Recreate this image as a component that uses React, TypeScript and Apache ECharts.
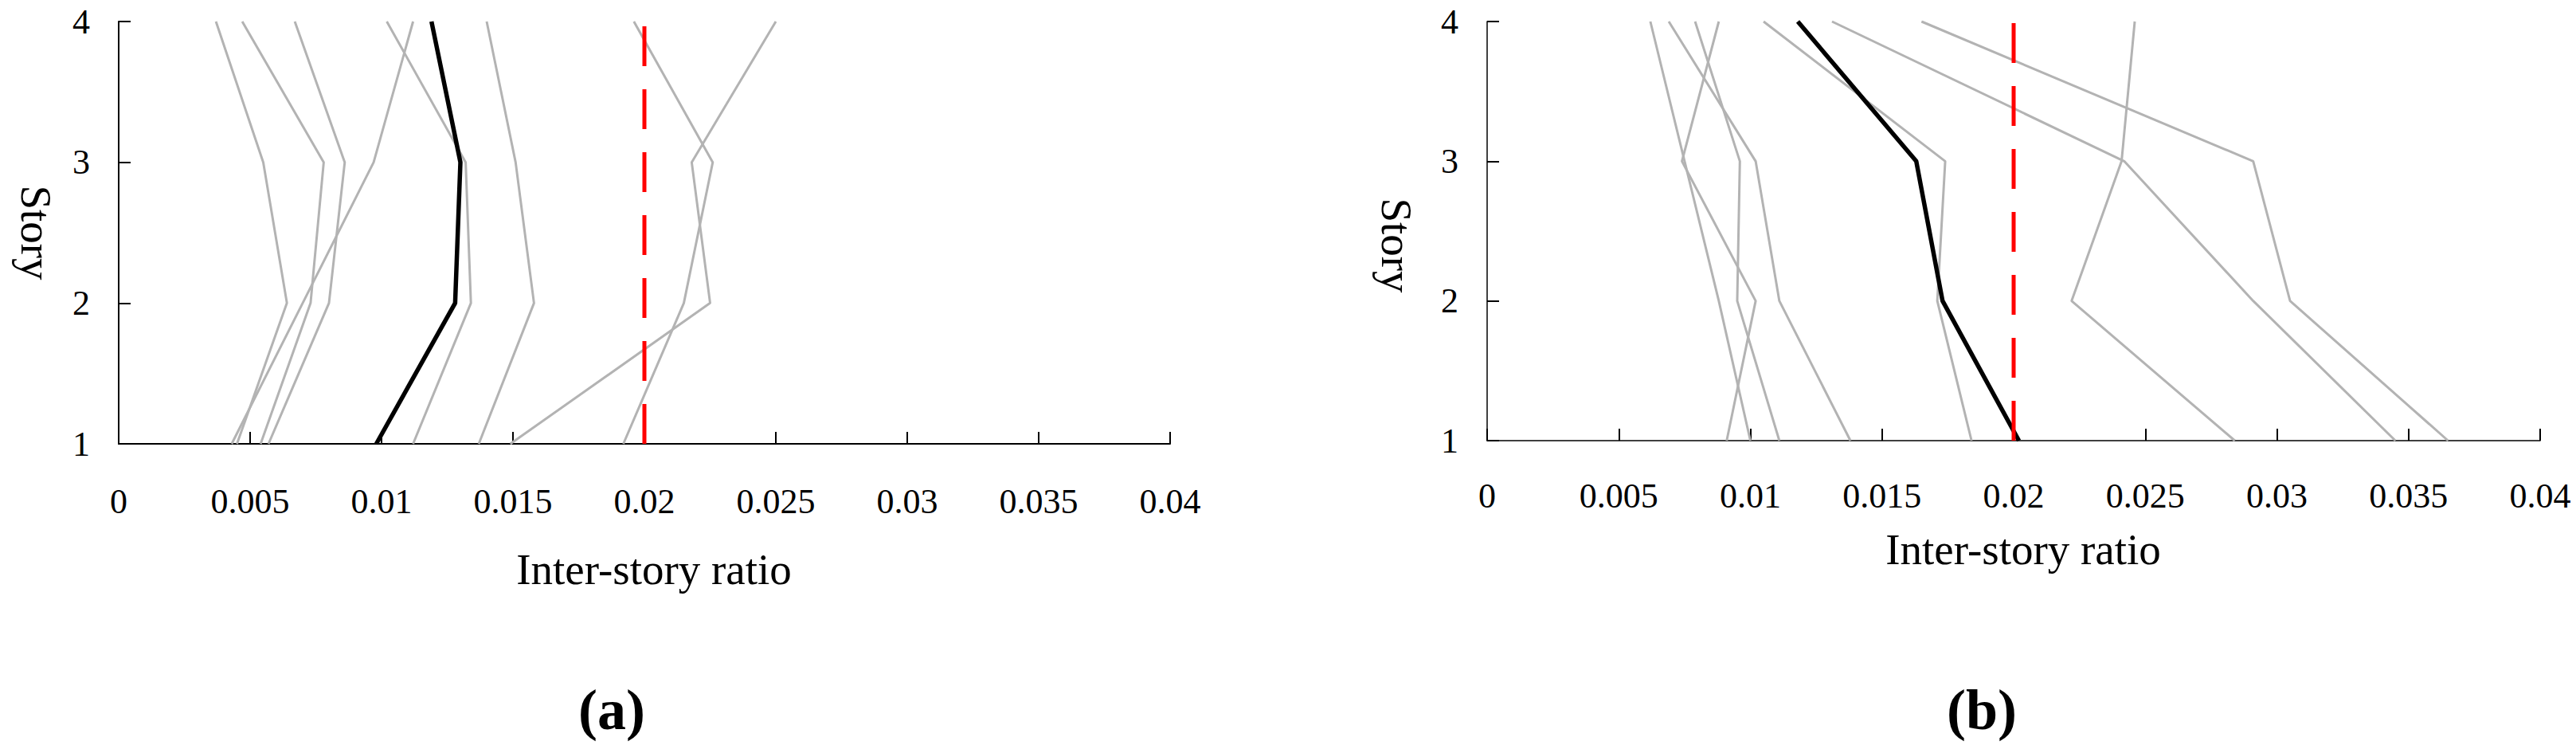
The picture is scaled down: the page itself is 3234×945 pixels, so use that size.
import React, { useEffect, useRef } from "react";
import * as echarts from "echarts";

// Story levels (y axis)
const STORIES = [1, 2, 3, 4];
const STORY_LABELS = ["1", "2", "3", "4"];
const X_TICKS = [0, 0.005, 0.01, 0.015, 0.02, 0.025, 0.03, 0.035, 0.04];

// Panel (a): inter-story drift ratio per record, listed for stories 1..4
const recA1 = [0.0045, 0.0064, 0.0055, 0.0037];
const recA2 = [0.0054, 0.0073, 0.0078, 0.0047];
const recA3 = [0.0057, 0.008, 0.0086, 0.0067];
const recA4 = [0.0043, 0.007, 0.0097, 0.0112];
const recA5 = [0.0112, 0.0134, 0.0132, 0.0102];
const recA6 = [0.0137, 0.0158, 0.0151, 0.014];
const recA7 = [0.0192, 0.0215, 0.0226, 0.0196];
const recA8 = [0.0149, 0.0225, 0.0218, 0.025];
const meanA = [0.0098, 0.0128, 0.013, 0.0119];

// Panel (b)
const recB1 = [0.01, 0.0088, 0.0075, 0.0062];
const recB2 = [0.0091, 0.0102, 0.0074, 0.0088];
const recB3 = [0.0138, 0.0111, 0.0102, 0.0069];
const recB4 = [0.0111, 0.0095, 0.0096, 0.0079];
const recB5 = [0.0184, 0.0171, 0.0174, 0.0105];
const recB6 = [0.0284, 0.0222, 0.0241, 0.0246];
const recB7 = [0.0345, 0.0291, 0.0242, 0.0131];
const recB8 = [0.0365, 0.0305, 0.0291, 0.0165];
const meanB = [0.0202, 0.0173, 0.0163, 0.0118];

// Drift limit (red dashed line), drawn from story 1 to story 4
const LIMIT = 0.02;
const LIMIT_STORIES = [1, 4];

const recordsA = [recA1, recA2, recA3, recA4, recA5, recA6, recA7, recA8];
const recordsB = [recB1, recB2, recB3, recB4, recB5, recB6, recB7, recB8];

const SERIF = "'Liberation Serif', 'Times New Roman', serif";

function toData(vals: number[]) {
  return STORIES.map((s, i) => [vals[i], s]);
}

function panelSeries(records: number[][], mean: number[], idx: number) {
  const out: any[] = [];
  records.forEach((r) => {
    out.push({
      type: "line",
      xAxisIndex: idx,
      yAxisIndex: idx,
      data: toData(r),
      showSymbol: false,
      symbol: "none",
      silent: true,
      lineStyle: { color: "#b3b3b3", width: 3 },
      z: 2,
    });
  });
  out.push({
    type: "line",
    xAxisIndex: idx,
    yAxisIndex: idx,
    data: toData(mean),
    showSymbol: false,
    symbol: "none",
    silent: true,
    lineStyle: { color: "#000000", width: 5.5 },
    z: 3,
  });
  out.push({
    type: "line",
    xAxisIndex: idx,
    yAxisIndex: idx,
    data: LIMIT_STORIES.map((s) => [LIMIT, s]),
    showSymbol: false,
    symbol: "none",
    silent: true,
    lineStyle: { color: "#ff0000", width: 5, type: [50, 29] },
    z: 4,
  });
  return out;
}

function xAxisCfg(idx: number, nameGap: number, lineW: number, labelMargin: number) {
  return {
    type: "value",
    gridIndex: idx,
    min: 0,
    max: 0.04,
    interval: 0.005,
    name: "Inter-story ratio",
    nameLocation: "middle",
    nameGap,
    nameTextStyle: {
      fontSize: 55,
      fontFamily: SERIF,
      color: "#000",
      padding: [0, 0, 0, 24],
    },
    axisLine: { show: true, onZero: false, lineStyle: { color: "#000", width: lineW } },
    axisTick: { show: true, inside: true, length: 15, lineStyle: { color: "#000", width: 2 } },
    axisLabel: {
      show: true,
      fontSize: 44,
      fontFamily: SERIF,
      color: "#000",
      margin: labelMargin,
      showMinLabel: true,
      showMaxLabel: true,
      formatter: (v: number) => {
        const t = X_TICKS.find((k) => Math.abs(k - v) < 1e-9);
        return String(t !== undefined ? t : +v.toFixed(3));
      },
    },
    splitLine: { show: false },
  };
}

function yAxisCfg(idx: number, nameGap: number, lineW: number, namePad: number[]) {
  return {
    type: "value",
    gridIndex: idx,
    min: 1,
    max: 4,
    interval: 1,
    name: "Story",
    nameLocation: "middle",
    nameRotate: -90,
    nameGap,
    nameTextStyle: {
      fontSize: 55,
      fontFamily: SERIF,
      color: "#000",
      padding: namePad,
    },
    axisLine: { show: true, onZero: false, lineStyle: { color: "#000", width: lineW } },
    axisTick: { show: true, inside: true, length: 15, lineStyle: { color: "#000", width: 2 } },
    axisLabel: {
      show: true,
      fontSize: 44,
      fontFamily: SERIF,
      color: "#000",
      margin: 36,
      padding: [14, 0, 0, 0],
      formatter: (v: number) => STORY_LABELS[STORIES.indexOf(Math.round(v))] ?? String(v),
    },
    splitLine: { show: false },
  };
}

export default function App() {
  const ref = useRef<HTMLDivElement>(null);

  useEffect(() => {
    document.body.style.margin = "0";
    if (!ref.current) return;
    const chart = echarts.init(ref.current, undefined, { renderer: "svg" });
    const option: any = {
      animation: false,
      backgroundColor: "#ffffff",
      grid: [
        { left: 149, top: 27, width: 1320, height: 530 },
        { left: 1867, top: 27, width: 1322, height: 526 },
      ],
      xAxis: [xAxisCfg(0, 130, 2, 50), xAxisCfg(1, 109, 1.5, 47)],
      yAxis: [yAxisCfg(0, 76, 2, [0, 0, 0, 0]), yAxisCfg(1, 86, 1.5, [0, 0, 0, 36])],
      series: [...panelSeries(recordsA, meanA, 0), ...panelSeries(recordsB, meanB, 1)],
      graphic: [
        {
          type: "text",
          x: 768,
          y: 891,
          style: {
            text: "(a)",
            fontSize: 72,
            fontFamily: SERIF,
            fontWeight: "bold",
            fill: "#000",
            align: "center",
            verticalAlign: "middle",
          },
        },
        {
          type: "text",
          x: 2488,
          y: 891,
          style: {
            text: "(b)",
            fontSize: 72,
            fontFamily: SERIF,
            fontWeight: "bold",
            fill: "#000",
            align: "center",
            verticalAlign: "middle",
          },
        },
      ],
    };
    chart.setOption(option);
    return () => {
      chart.dispose();
    };
  }, []);

  return <div ref={ref} style={{ width: 3234, height: 945 }} />;
}
